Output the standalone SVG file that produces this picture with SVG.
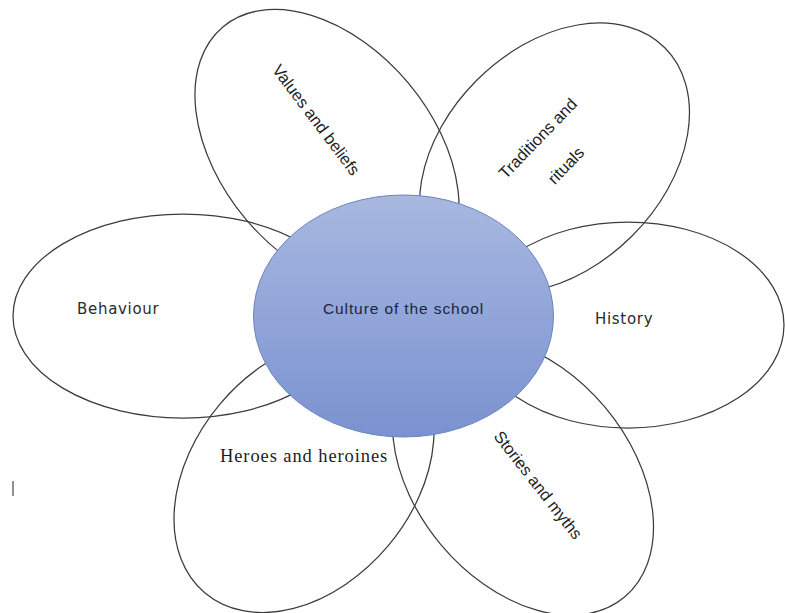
<svg xmlns="http://www.w3.org/2000/svg" width="785" height="613" viewBox="0 0 785 613">
  <defs>
    <linearGradient id="hubFill" x1="0" y1="0" x2="0" y2="1">
      <stop offset="0" stop-color="#a8b8e0"/>
      <stop offset="1" stop-color="#7a92d0"/>
    </linearGradient>
    <style>
      .petal{fill:none;stroke:#3c3c3c;stroke-width:1.25}
      .hub{fill:url(#hubFill);stroke:#6b84be;stroke-width:1}
      .sans{font-family:"Liberation Sans","DejaVu Sans",sans-serif;font-size:16.5px;fill:#1e1e1e;text-anchor:middle}
      .plain{font-family:"DejaVu Sans",Verdana,sans-serif;font-size:15px;fill:#2a2a2a;letter-spacing:0.7px}
      .serif{font-family:"Liberation Serif","Times New Roman",serif;font-size:18.5px;fill:#1e1e1e;letter-spacing:0.9px}
      .hubtext{font-family:"Liberation Sans","DejaVu Sans",sans-serif;font-size:15.5px;fill:#1c2440;letter-spacing:0.9px;text-anchor:middle}
    </style>
  </defs>

  <rect width="785" height="613" fill="#ffffff"/>

  <!-- petals -->
  <g id="behaviour">
    <ellipse class="petal" cx="183" cy="316" rx="170" ry="102"/>
    <text class="plain" x="77" y="314">Behaviour</text>
  </g>

  <g id="history">
    <ellipse class="petal" cx="628" cy="325" rx="156" ry="103"/>
    <text class="plain" x="595" y="324">History</text>
  </g>

  <g id="values-beliefs">
    <ellipse class="petal" cx="0" cy="0" rx="162" ry="106" transform="translate(327 151) rotate(50)"/>
    <text class="sans" x="0" y="5.5" transform="translate(316 120) rotate(53)">Values and beliefs</text>
  </g>

  <g id="traditions-rituals">
    <ellipse class="petal" cx="0" cy="0" rx="156" ry="110" transform="translate(554.5 158) rotate(-45)"/>
    <g transform="translate(538 138.5) rotate(-46)">
      <text class="sans" x="0" y="5.5">Traditions and</text>
      <text class="sans" x="0" y="44.5">rituals</text>
    </g>
  </g>

  <g id="stories-myths">
    <ellipse class="petal" cx="0" cy="0" rx="158" ry="107" transform="translate(523 476) rotate(50)"/>
    <text class="sans" x="0" y="5" transform="translate(537.5 485.5) rotate(52)">Stories and myths</text>
  </g>

  <g id="heroes-heroines">
    <ellipse class="petal" cx="0" cy="0" rx="154" ry="110" transform="translate(304 475) rotate(-50)"/>
    <text class="serif" x="220" y="462">Heroes and heroines</text>
  </g>

  <!-- centre -->
  <g id="culture">
    <ellipse class="hub" cx="403.5" cy="316" rx="150" ry="121"/>
    <text class="hubtext" x="403.5" y="314">Culture of the school</text>
  </g>

  <!-- stray cursor mark at the left margin -->
  <line x1="13" y1="481" x2="13" y2="496" stroke="#555555" stroke-width="1.3"/>
</svg>
